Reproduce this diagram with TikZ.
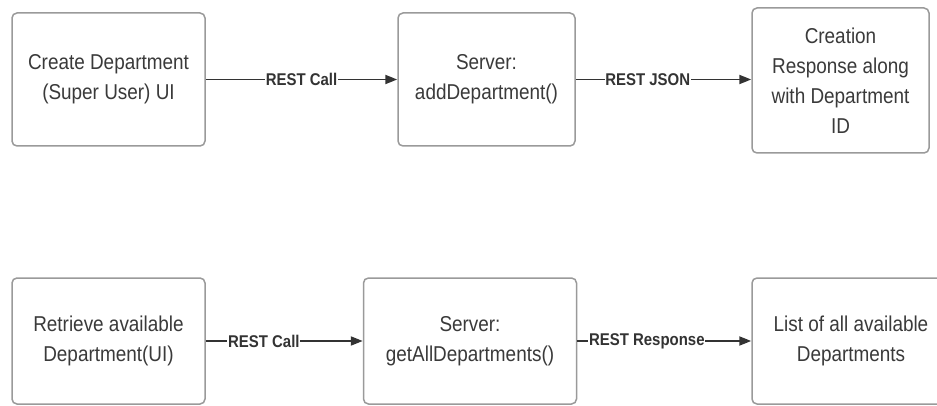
\documentclass[tikz,border=0pt]{standalone}
\usepackage{fontspec}
\setmainfont[FakeStretch=0.88]{Liberation Sans}
\usetikzlibrary{arrows.meta}
\definecolor{boxline}{HTML}{9A9A9A}
\definecolor{txt}{HTML}{3A3A3A}
\definecolor{arr}{HTML}{333333}
\tikzset{
  procbox/.style={draw=boxline, line width=1.5pt, rounded corners=5pt, fill=white,
    align=center, text=txt, font=\fontsize{21.5}{30}\selectfont, inner sep=0pt},
  flow/.style={draw=arr, line width=1.9pt, -{Triangle[length=12pt,width=9pt]}},
  flowlabel/.style={fill=white, inner sep=0.6pt, text=arr, font=\fontsize{17}{18}\selectfont\bfseries}
}
\begin{document}
\begin{tikzpicture}[x=1pt,y=-1pt]
\useasboundingbox (0,0) rectangle (937,406);
\fill[white] (0,0) rectangle (937,406);
\begin{scope}
\clip (0,0) rectangle (937,406);
% top row
\node[procbox, minimum width=193pt, minimum height=133pt] (b1) at (108.5,79.5) {Create Department\\(Super User) UI};
\node[procbox, minimum width=177pt, minimum height=133pt] (b2) at (486.5,79.5) {Server:\\addDepartment()};
\node[procbox, minimum width=177pt, minimum height=145pt] (b3) at (840.5,80.5) {Creation\\Response along\\with Department\\ID};
% bottom row
\node[procbox, minimum width=193pt, minimum height=126pt] (b4) at (108.5,341) {Retrieve available\\Department(UI)};
\node[procbox, minimum width=213pt, minimum height=126pt] (b5) at (470,341) {Server:\\getAllDepartments()};
\node[procbox, minimum width=198pt, minimum height=126pt] (b6) at (851,341) {List of all available\\Departments};
% connectors
\draw[flow] (b1.east) -- node[flowlabel, pos=0.5] (l1) {REST Call} (b2.west);
\draw[flow] (b2.east) -- node[flowlabel, pos=0.41] (l2) {REST JSON} (b3.west |- b2.east);
\draw[flow] (b4.east) -- node[flowlabel, pos=0.37] (l3) {REST Call} (b5.west);
\draw[flow] (b5.east) -- node[flowlabel, pos=0.40] (l4) {REST Response} (b6.west);
\end{scope}
\end{tikzpicture}
\end{document}
